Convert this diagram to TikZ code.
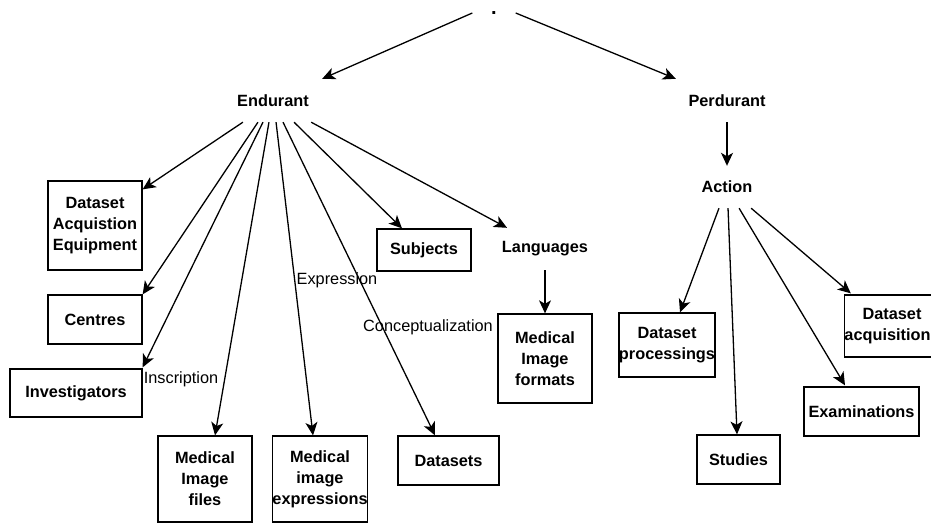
\documentclass[tikz,border=0pt]{standalone}
\usepackage{fontspec}
\setmainfont{Liberation Sans}
\usetikzlibrary{calc,arrows.meta}
\begin{document}
\begin{tikzpicture}[x=1pt,y=-1pt,
  base/.style={inner sep=0pt, align=center, font=\fontsize{16.3}{21}\selectfont},
  box/.style={base, draw, line width=1.3pt, font=\fontsize{16.3}{21}\selectfont\bfseries},
  txt/.style={base, font=\fontsize{16.3}{21}\selectfont\bfseries},
  lab/.style={base},
  arr/.style={line width=1.3pt, -{Stealth[length=13pt,width=12pt,inset=3.5pt]}}]
\useasboundingbox (0,0) rectangle (931,525);
\clip (0,0) rectangle (931,525);

% top level
\node[txt, minimum width=43pt, font=\fontsize{20}{21}\selectfont\bfseries] (root) at (494,13) {.};
\node[txt, minimum width=98pt, minimum height=42pt] (en) at (273,101) {Endurant};
\node[txt, minimum width=102pt, minimum height=42pt] (pe) at (727,101) {Perdurant};
\node[txt, minimum width=60pt, minimum height=42pt] (ac) at (727,187) {Action};

% endurant children
\node[box, minimum width=94pt, minimum height=89pt] (dae) at (95,225.5) {Dataset\\Acquistion\\Equipment};
\node[box, minimum width=94pt, minimum height=49pt] (cen) at (95,319.5) {Centres};
\node[box, minimum width=132pt, minimum height=48pt] (inv) at (76,393) {Investigators};
\node[box, minimum width=94pt, minimum height=86pt] (mif) at (205,479) {Medical\\Image\\files};
\node[box, minimum width=94pt, minimum height=86pt] (mie) at (320,479) {Medical\\image\\expressions};
\node[box, minimum width=101pt, minimum height=49pt] (dts) at (448.5,460.5) {Datasets};
\node[box, minimum width=94pt, minimum height=42pt] (sub) at (424,250) {Subjects};
\node[txt, minimum width=90pt, minimum height=42pt] (lan) at (545,249) {Languages};
\node[box, minimum width=94pt, minimum height=89pt] (mf) at (545,358.5) {Medical\\Image\\formats};

% action children
\node[box, minimum width=94pt, minimum height=64pt] (dp) at (667,345) {Dataset\\processings};
\node[box, minimum width=83pt, minimum height=49pt] (stu) at (738.5,459.5) {Studies};
\node[box, minimum width=115pt, minimum height=49pt] (exa) at (861.5,411.5) {Examinations};
\node[box, minimum width=94pt, minimum height=62pt] (dac) at (892,326) {Dataset\\acquisitions};

% labels
\node[lab] (lins) at (181,379) {Inscription};
\node[lab] (lexp) at (337,280) {Expression};
\node[lab] (lcon) at (428,327) {Conceptualization};

% connectors
\draw[arr] (root.west) -- ($(en.north east)+(0,-1)$);
\draw[arr] (root.east) -- ($(pe.north west)+(0,-1)$);
\draw[arr] (pe.south) -- (ac.north);

\draw[arr] ($(en.south west)!0.194!(en.south east)$) -- ($(dae.north east)+(0,9)$);
\draw[arr] ($(en.south west)!0.347!(en.south east)$) -- (cen.north east);
\draw[arr] ($(en.south west)!0.398!(en.south east)$) -- ($(inv.north east)+(0,-1)$);
\draw[arr] ($(en.south west)!0.459!(en.south east)$) -- ($(mif.north)+(10,0)$);
\draw[arr] ($(en.south west)!0.531!(en.south east)$) -- ($(mie.north)+(-7,0)$);
\draw[arr] ($(en.south west)!0.602!(en.south east)$) -- ($(dts.north)+(-13.5,0)$);
\draw[arr] ($(en.south west)!0.714!(en.south east)$) -- ($(sub.north)+(-22,0)$);
\draw[arr] ($(en.south west)!0.888!(en.south east)$) -- ($(lan.north)+(-38,0)$);
\draw[arr] (lan.south) -- (mf.north);

\draw[arr] ($(ac.south west)!0.367!(ac.south east)$) -- ($(dp.north)+(13,0)$);
\draw[arr] ($(ac.south west)!0.517!(ac.south east)$) -- ($(stu.north)+(-1.5,0)$);
\draw[arr] ($(ac.south west)!0.7!(ac.south east)$) -- ($(exa.north)+(-16.5,-1)$);
\draw[arr] ($(ac.south west)!0.9!(ac.south east)$) -- ($(dac.north west)+(7,-1)$);
\end{tikzpicture}
\end{document}
